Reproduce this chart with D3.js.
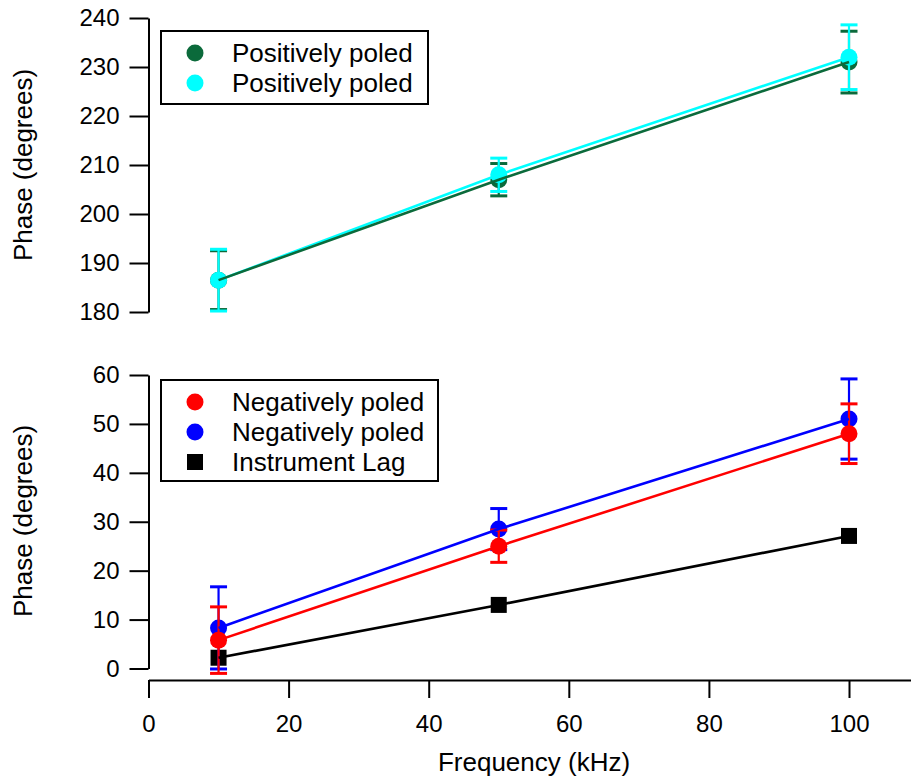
<!DOCTYPE html>
<html>
<head>
<meta charset="utf-8">
<script src="https://cdn.jsdelivr.net/npm/d3@7"></script>
<style>
  html, body { margin: 0; padding: 0; background: #fff; }
  svg { display: block; font-family: "Liberation Sans", Arial, sans-serif; }
</style>
</head>
<body>
<svg id="chart" width="911" height="778"></svg>
<script>
// Frequencies (kHz) shared by every series
const freq = [10, 50, 100];

// Positively poled samples (upper panel)
const posDark = [186.5, 207, 231];
const posDarkErr = [6.0, 3.3, 6.3];
const posCyan = [186.5, 208, 232];
const posCyanErr = [6.3, 3.4, 6.6];

// Negatively poled samples and instrument lag (lower panel)
const negRed = [5.8, 25, 48];
const negRedErr = [6.8, 3.3, 6.1];
const negBlue = [8.3, 28.5, 51];
const negBlueErr = [8.4, 4.2, 8.2];
const lag = [2.2, 13, 27.1];

// Axis ticks
const xTicks = [0, 20, 40, 60, 80, 100];
const topTicks = [180, 190, 200, 210, 220, 230, 240];
const bottomTicks = [0, 10, 20, 30, 40, 50, 60];

const svg = d3.select("#chart");

const x = d3.scaleLinear().domain([0, 108.85]).range([148.5, 911]);
const yTop = d3.scaleLinear().domain([180, 240]).range([312, 18]);
const yBot = d3.scaleLinear().domain([0, 60]).range([668.5, 375]);

const FONT = 24;
const TITLE_FONT = 26;

function yAxis(scale, ticks) {
  const g = svg.append("g").attr("transform", `translate(${x.range()[0]},0)`);
  g.call(d3.axisLeft(scale).tickValues(ticks).tickSize(19).tickPadding(10).tickSizeOuter(0));
  g.select(".domain").attr("stroke", "#000").attr("stroke-width", 2);
  g.selectAll(".tick line").attr("stroke", "#000").attr("stroke-width", 2);
  g.selectAll(".tick text").attr("font-size", FONT).attr("fill", "#000")
    .attr("font-family", "Liberation Sans, Arial, sans-serif");
  return g;
}

yAxis(yTop, topTicks);
yAxis(yBot, bottomTicks);

// Frequency axis
const gx = svg.append("g").attr("transform", "translate(0,680)");
gx.call(d3.axisBottom(x).tickValues(xTicks).tickSize(18).tickPadding(17).tickSizeOuter(0));
gx.select(".domain").attr("stroke", "#000").attr("stroke-width", 2);
gx.selectAll(".tick line").attr("stroke", "#000").attr("stroke-width", 2);
gx.selectAll(".tick text").attr("font-size", FONT).attr("fill", "#000")
  .attr("font-family", "Liberation Sans, Arial, sans-serif");

// Axis titles
svg.append("text").attr("x", 534).attr("y", 771).attr("text-anchor", "middle")
  .attr("font-size", TITLE_FONT).text("Frequency (kHz)");
[[yTop, 165], [yBot, 521]].forEach(([s, cy]) => {
  svg.append("text").attr("transform", `translate(32,${cy}) rotate(-90)`)
    .attr("text-anchor", "middle").attr("font-size", TITLE_FONT).text("Phase (degrees)");
});

const CAP = 8.5;

function errorBars(scale, vals, errs, color) {
  const g = svg.append("g");
  vals.forEach((v, i) => {
    const cx = x(freq[i]);
    const y1 = scale(v + errs[i]), y0 = scale(v - errs[i]);
    g.append("line").attr("x1", cx).attr("x2", cx).attr("y1", y1).attr("y2", y0)
      .attr("stroke", color).attr("stroke-width", 2.2);
    [y1, y0].forEach(yy => g.append("line").attr("x1", cx - CAP).attr("x2", cx + CAP)
      .attr("y1", yy).attr("y2", yy).attr("stroke", color).attr("stroke-width", 3));
  });
}

function circles(scale, vals, color) {
  svg.append("g").selectAll("circle").data(vals).join("circle")
    .attr("cx", (d, i) => x(freq[i])).attr("cy", d => scale(d)).attr("r", 8.5)
    .attr("fill", color);
}

function squares(scale, vals, color) {
  svg.append("g").selectAll("rect").data(vals).join("rect")
    .attr("x", (d, i) => x(freq[i]) - 8).attr("y", d => scale(d) - 8)
    .attr("width", 16).attr("height", 16).attr("fill", color);
}

function trace(scale, vals, color) {
  const line = d3.line().x((d, i) => x(freq[i])).y(d => scale(d));
  svg.append("path").datum(vals).attr("d", line).attr("fill", "none")
    .attr("stroke", color).attr("stroke-width", 2.6);
}

const DARK = "#0b6a3b", CYAN = "#00ffff", RED = "#ff0000", BLUE = "#0000ff", BLACK = "#000000";

// Upper panel
errorBars(yTop, posDark, posDarkErr, DARK);
circles(yTop, posDark, DARK);
errorBars(yTop, posCyan, posCyanErr, CYAN);
circles(yTop, posCyan, CYAN);
trace(yTop, posCyan, CYAN);
trace(yTop, posDark, DARK);

// Lower panel
squares(yBot, lag, BLACK);
errorBars(yBot, negBlue, negBlueErr, BLUE);
circles(yBot, negBlue, BLUE);
errorBars(yBot, negRed, negRedErr, RED);
circles(yBot, negRed, RED);
trace(yBot, lag, BLACK);
trace(yBot, negBlue, BLUE);
trace(yBot, negRed, RED);

// Legends
function legend(x0, y0, w, h, items) {
  const g = svg.append("g");
  g.append("rect").attr("x", x0).attr("y", y0).attr("width", w).attr("height", h)
    .attr("fill", "#fff").attr("stroke", "#000").attr("stroke-width", 2);
  items.forEach((it, i) => {
    const cy = y0 + 22 + i * 30;
    if (it.shape === "square") {
      g.append("rect").attr("x", 195 - 8).attr("y", cy - 8).attr("width", 16).attr("height", 16)
        .attr("fill", it.color);
    } else {
      g.append("circle").attr("cx", 195).attr("cy", cy).attr("r", 8.5).attr("fill", it.color);
    }
    g.append("text").attr("x", 232).attr("y", cy).attr("dy", "0.35em")
      .attr("font-size", TITLE_FONT).text(it.label);
  });
}

legend(161, 31, 267, 73, [
  { label: "Positively poled", color: DARK },
  { label: "Positively poled", color: CYAN }
]);
legend(161, 380, 277, 101, [
  { label: "Negatively poled", color: RED },
  { label: "Negatively poled", color: BLUE },
  { label: "Instrument Lag", color: BLACK, shape: "square" }
]);
</script>
</body>
</html>
